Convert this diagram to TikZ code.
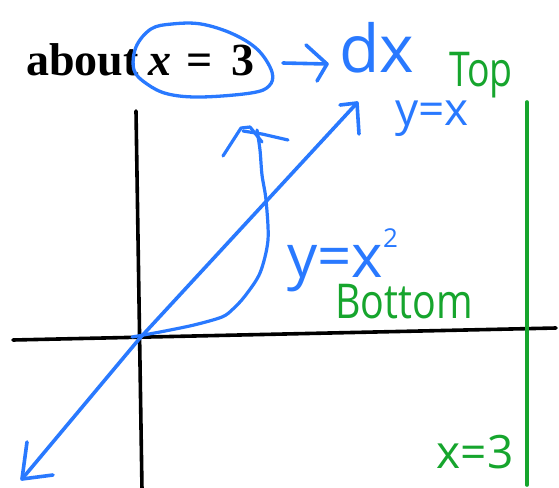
\documentclass[tikz,border=0pt]{standalone}
\usepackage{fontspec}
\setmainfont{Liberation Serif}
\newfontfamily\hand{Open Sans}
\definecolor{penblue}{RGB}{41,121,255}
\definecolor{pengreen}{RGB}{22,165,45}
\begin{document}
\begin{tikzpicture}[x=1pt,y=-1pt,
  axis/.style={line width=3.6pt,line cap=round,black},
  bluepen/.style={line width=3.6pt,line cap=round,line join=round,penblue},
  greenpen/.style={line width=3.6pt,line cap=round,pengreen},
  bluetxt/.style={text=penblue,inner sep=0pt,anchor=base},
  greentxt/.style={text=pengreen,inner sep=0pt,anchor=base}]
\useasboundingbox (0,0) rectangle (559,487);
% title
\node[anchor=base west,inner sep=0pt,font=\fontsize{46}{46}\selectfont\bfseries] (title) at (26,75)
  {about\hspace{10pt}\textit{x}\hspace{15pt}=\hspace{19pt}3};
% hand-drawn ellipse around x = 3
\draw[bluepen,line width=3.3pt] plot[smooth cycle,tension=0.6] coordinates
  {(151,29) (172,24) (201,24) (233,34) (258,50) (272,72) (269,86) (251,93) (201,97) (168,94) (147,84) (134,70) (136,47)};
% arrow to dx
\coordinate (a1) at (283,63);
\coordinate (a2) at (327,64);
\draw[bluepen] (a1) -- (a2);
\draw[bluepen] (306,45) -- (a2) -- (317,81);
\node[bluetxt,font=\hand\fontsize{66}{66}\selectfont] (dx) at (377,72) {dx};
% labels
\node[greentxt,font=\hand\fontsize{48}{48}\selectfont,xscale=0.78] (top) at (481,86) {Top};
\node[bluetxt,font=\hand\fontsize{46}{46}\selectfont] (yx) at (432,125) {y=x};
\node[bluetxt,anchor=base west,font=\hand\fontsize{60}{60}\selectfont] (yx2) at (287,277)
  {y=x\raisebox{30pt}{\fontsize{26}{26}\selectfont 2}};
\node[greentxt,font=\hand\fontsize{48}{48}\selectfont,xscale=0.82] (bottom) at (404,318) {Bottom};
\node[greentxt,font=\hand\fontsize{46}{46}\selectfont] (x3) at (475,468) {x=3};
% axes
\coordinate (xl) at (13,340);
\coordinate (xr) at (556,328);
\coordinate (yt) at (136,111);
\coordinate (yb) at (142,490);
\draw[axis] (xl) -- (xr);
\draw[axis] (yt) -- (yb);
% line x = 3
\coordinate (gt) at (527,102);
\coordinate (gb) at (527,485);
\draw[greenpen] (gt) -- (gb);
% y = x line
\coordinate (O) at (140,338);
\coordinate (ll) at (22,479);
\coordinate (ur) at (357,103);
\draw[bluepen] (ll) -- (O) -- (ur);
\draw[bluepen] (340,105) -- (ur) -- (359,134);
\draw[bluepen] (27,442) -- (ll) -- (53,475);
% y = x^2 curve with rotation arrow
\draw[bluepen,line width=3.2pt] plot[smooth,tension=0.5] coordinates
  {(132,337) (160,332) (194,325) (222,317) (233,309) (245,296) (260,273) (268,240) (266,200) (262,175) (260,150) (257,130)};
\draw[bluepen,line width=3.2pt] (223,156) -- (241,128) -- (250,127) -- (262,142);
\draw[bluepen,line width=3.2pt] (243,131) -- (262,134) -- (288,140);
\end{tikzpicture}
\end{document}
